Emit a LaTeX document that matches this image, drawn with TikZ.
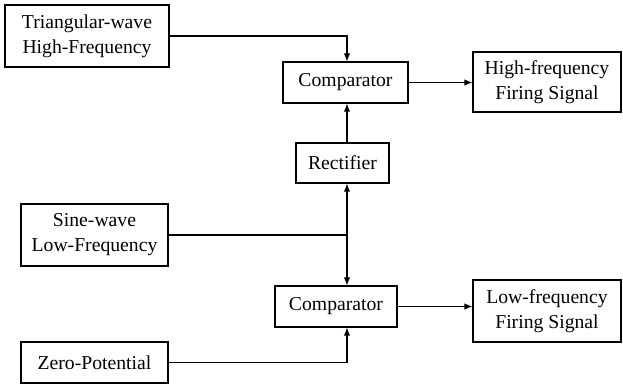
\documentclass[tikz,border=0pt]{standalone}
\usepackage{fontspec}
\setmainfont{Liberation Serif}
\usetikzlibrary{arrows.meta,positioning,calc}
\tikzset{
  block/.style={draw=black, thick, inner sep=0pt, align=center, font=\fontsize{14}{17.8}\selectfont},
  arrow/.style={-{Latex[length=2mm,width=1.6mm]}, thick},
  wire/.style={thick}
}

\begin{document}
\begin{tikzpicture}
  \useasboundingbox (0,0) rectangle (15.575,9.625);
  \node[block, minimum width=4.1cm, minimum height=1.55cm] (tri) at (2.175,8.725) {Triangular-wave\\High-Frequency};
  \node[block, minimum width=3.675cm, minimum height=1.55cm] (sine) at (2.3625,3.75) {Sine-wave\\Low-Frequency};
  \node[block, minimum width=3.675cm, minimum height=1.025cm] (zero) at (2.3625,0.5625) {Zero-Potential};
  \node[block, minimum width=3.125cm, minimum height=1.025cm] (comphi) at (8.6375,7.5625) {Comparator};
  \node[block, minimum width=2.325cm, minimum height=1cm] (rect) at (8.5625,5.55) {Rectifier};
  \node[block, minimum width=3.05cm, minimum height=1.025cm] (complo) at (8.4,1.9625) {Comparator};
  \node[block, minimum width=3.7cm, minimum height=1.5cm] (hfout) at (13.675,7.575) {High-frequency\\Firing Signal};
  \node[block, minimum width=3.7cm, minimum height=1.55cm] (lfout) at (13.675,1.85) {Low-frequency\\Firing Signal};
  \coordinate (jn) at (8.675,3.75);
  % sine branch splits to both paths
  \draw[wire] (sine.east) -- (jn);
  \draw[arrow] (jn) -- (rect.south -| jn);
  \draw[arrow] (jn) -- (complo.north -| jn);
  \draw[arrow] (rect.north -| jn) -- (comphi.south -| jn);
  \draw[arrow] (tri.east) -| (comphi.north -| jn);
  \draw[arrow] (zero.east) -| (complo.south -| jn);
  \draw[arrow] (comphi.east) -- (comphi.east -| hfout.west);
  \draw[arrow] (complo.east) -- (complo.east -| lfout.west);
\end{tikzpicture}
\end{document}
